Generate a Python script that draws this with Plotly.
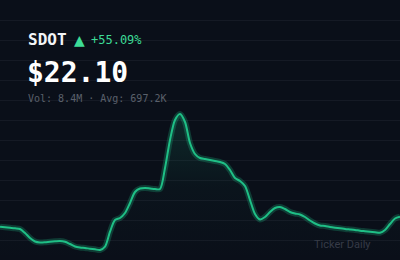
import plotly.graph_objects as go

# ---- data ----
days = list(range(81))
prices = [16.98, 16.68, 16.42, 16.17, 15.81, 13.77, 11.22, 9.44, 8.93, 9.03,
          9.33, 9.54, 9.69, 9.28, 8.16, 6.89, 6.38, 6.12, 5.76, 5.46,
          5.10, 6.78, 14.43, 20.40, 21.42, 23.97, 29.07, 34.68, 36.47, 36.72,
          36.47, 36.21, 36.21, 46.92, 61.20, 71.40, 74.46, 70.38, 59.67, 54.06,
          52.02, 51.51, 51.00, 50.49, 49.98, 48.96, 45.90, 41.82, 40.29, 37.74,
          30.60, 23.46, 20.66, 21.93, 24.48, 26.52, 27.03, 26.01, 24.48, 23.72,
          23.21, 21.93, 20.15, 18.62, 17.60, 17.34, 16.83, 16.47, 16.17, 15.81,
          15.56, 15.30, 14.94, 14.69, 14.43, 14.18, 13.92, 15.30, 18.36, 21.17,
          22.10]
ticker = "SDOT"
change_label = "+55.09%"
price_label = "$22.10"
stats_label = "Vol: 8.4M \u00b7 Avg: 697.2K"
source_label = "Ticker Daily"

BG = "#0a0f19"
GREEN = "#1fbf86"
MONO = "DejaVu Sans Mono"

fig = go.Figure()
# fill with vertical gradient
fig.add_trace(go.Scatter(
    x=days, y=prices, mode="lines", line=dict(width=0, shape="spline", smoothing=0.8),
    fill="tozeroy",
    fillgradient=dict(type="vertical", start=0, stop=75,
                      colorscale=[[0, "rgba(31,191,134,0)"], [0.5, "rgba(31,191,134,0.03)"],
                                  [1, "rgba(31,191,134,0.16)"]]),
    hoverinfo="skip", showlegend=False))
# glow
fig.add_trace(go.Scatter(
    x=days, y=prices, mode="lines",
    line=dict(color="rgba(31,191,134,0.25)", width=6, shape="spline", smoothing=0.8),
    hoverinfo="skip", showlegend=False))
# main line
fig.add_trace(go.Scatter(
    x=days, y=prices, mode="lines",
    line=dict(color=GREEN, width=2, shape="spline", smoothing=0.8),
    hoverinfo="skip", showlegend=False))

fig.update_layout(
    width=400, height=260,
    margin=dict(l=0, r=0, t=0, b=0),
    paper_bgcolor=BG, plot_bgcolor=BG,
    xaxis=dict(range=[0, 80], visible=False, fixedrange=True),
    yaxis=dict(range=[0, 132.6], tick0=0, dtick=10.2, showgrid=True,
               gridcolor="#151a25", gridwidth=1, zeroline=False,
               showticklabels=False, ticks="", showline=False, fixedrange=True),
    showlegend=False,
)

def ann(text, px, py, size, color, family=MONO, bold=False, xanchor="left"):
    fig.add_annotation(
        text=f"<b>{text}</b>" if bold else text,
        x=px / 400, y=1 - py / 260, xref="paper", yref="paper",
        xanchor=xanchor, yanchor="middle", showarrow=False,
        font=dict(family=family, size=size, color=color), borderpad=0)

ann(ticker, 27, 39, 16, "#f2f4f7", bold=True)
ann("\u25b2", 73, 40, 14, "#3ddc97", family="DejaVu Sans")
ann(change_label, 90, 40, 12, "#3ddc97")
ann(price_label, 26, 72, 28, "#ffffff", bold=True)
ann(stats_label, 27, 98, 10, "#5a606b")
ann(source_label, 372, 244, 11, "#363b47", family="Roboto", xanchor="right")

fig.write_html("out.html")
